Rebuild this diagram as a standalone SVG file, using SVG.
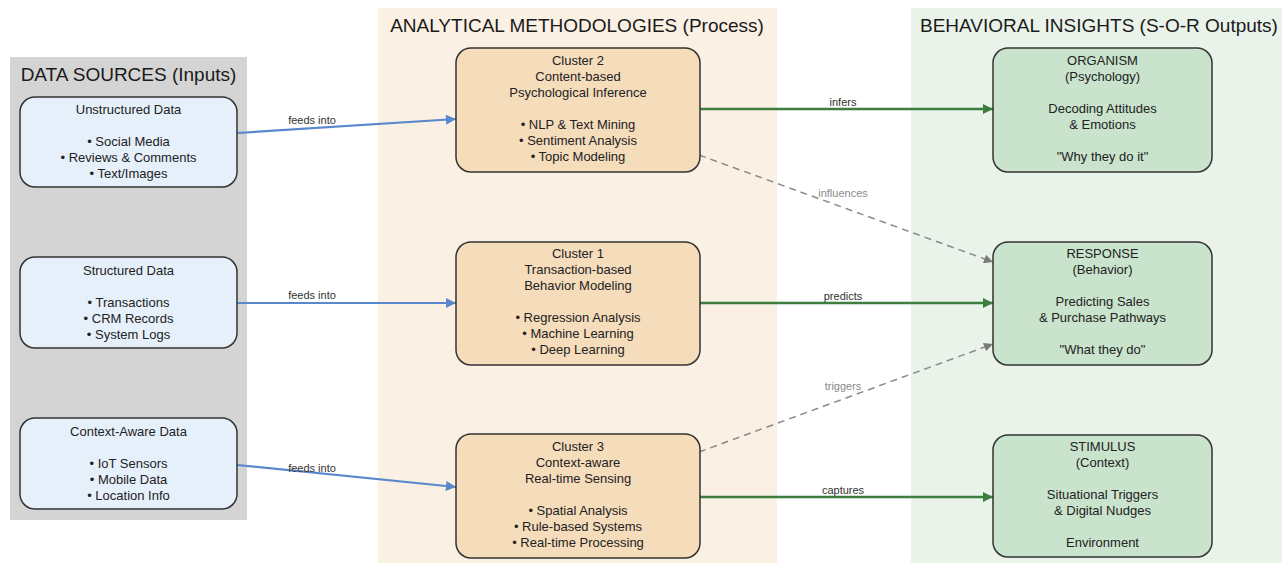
<svg xmlns="http://www.w3.org/2000/svg" width="1282" height="563" viewBox="0 0 1282 563">
<defs>
<style>
.title{font-family:"Liberation Sans",Arial,sans-serif;font-size:19px;fill:#1a1a1a}
.nt{font-family:"Liberation Sans",Arial,sans-serif;font-size:13px;fill:#222;text-anchor:middle}
.lbl{font-family:"Liberation Sans",Arial,sans-serif;font-size:11px;fill:#333;text-anchor:middle}
.glbl{font-family:"Liberation Sans",Arial,sans-serif;font-size:11px;fill:#8a8a8a;text-anchor:middle}
.src{fill:#e6f0fa;stroke:#333;stroke-width:1.5}
.mth{fill:#f5dcbb;stroke:#333;stroke-width:1.5}
.out{fill:#c9e3cc;stroke:#333;stroke-width:1.5}
.blue{stroke:#5a88cc;stroke-width:2.2;fill:none}
.green{stroke:#3d7d3d;stroke-width:2.5;fill:none}
.dash{stroke:#8a8a8a;stroke-width:1.5;fill:none;stroke-dasharray:7,5}
</style>
<marker id="ab" viewBox="0 0 10 10" refX="10" refY="5" markerWidth="14" markerHeight="10" markerUnits="userSpaceOnUse" orient="auto"><path d="M0,0 L10,5 L0,10 z" fill="#5a88cc"/></marker>
<marker id="ag" viewBox="0 0 10 10" refX="10" refY="5" markerWidth="14" markerHeight="10" markerUnits="userSpaceOnUse" orient="auto"><path d="M0,0 L10,5 L0,10 z" fill="#3d7d3d"/></marker>
<marker id="ay" viewBox="0 0 10 10" refX="10" refY="5" markerWidth="13" markerHeight="9" markerUnits="userSpaceOnUse" orient="auto"><path d="M0,0 L10,5 L0,10 z" fill="#7a7a7a"/></marker>
</defs>
<rect width="1282" height="563" fill="#ffffff"/>
<g id="panels">
<rect x="10" y="57" width="237" height="463" fill="#d4d4d4"/>
<rect x="378" y="8" width="399" height="555" fill="#faf0e4"/>
<rect x="911" y="8" width="371" height="555" fill="#eaf3ea"/>
<text class="title" x="128.5" y="81" text-anchor="middle">DATA SOURCES (Inputs)</text>
<text class="title" x="577" y="32" text-anchor="middle">ANALYTICAL METHODOLOGIES (Process)</text>
<text class="title" x="920" y="32">BEHAVIORAL INSIGHTS (S-O-R Outputs)</text>
</g>
<g id="connectors">
<line class="blue" x1="237" y1="133" x2="456" y2="119" marker-end="url(#ab)"/>
<text class="lbl" x="312" y="124">feeds into</text>
<line class="blue" x1="237" y1="303" x2="456" y2="303" marker-end="url(#ab)"/>
<text class="lbl" x="312" y="299">feeds into</text>
<line class="blue" x1="237" y1="465" x2="456" y2="487" marker-end="url(#ab)"/>
<text class="lbl" x="312" y="472">feeds into</text>
<line class="green" x1="700" y1="109" x2="993" y2="109" marker-end="url(#ag)"/>
<text class="lbl" x="843" y="106">infers</text>
<line class="green" x1="700" y1="303" x2="993" y2="303" marker-end="url(#ag)"/>
<text class="lbl" x="843" y="300">predicts</text>
<line class="green" x1="700" y1="497" x2="993" y2="497" marker-end="url(#ag)"/>
<text class="lbl" x="843" y="494">captures</text>
<line class="dash" x1="699" y1="155" x2="993" y2="262" marker-end="url(#ay)"/>
<text class="glbl" x="843" y="197">influences</text>
<line class="dash" x1="699" y1="452" x2="993" y2="344" marker-end="url(#ay)"/>
<text class="glbl" x="843" y="390">triggers</text>
</g>
<g id="unstructured">
<rect class="src" x="20" y="97" width="217" height="90" rx="15"/>
<text class="nt" x="128.5" y="114">Unstructured Data</text>
<text class="nt" x="128.5" y="146">• Social Media</text>
<text class="nt" x="128.5" y="162">• Reviews &amp; Comments</text>
<text class="nt" x="128.5" y="178">• Text/Images</text>
</g>
<g id="structured">
<rect class="src" x="20" y="257" width="217" height="91" rx="15"/>
<text class="nt" x="128.5" y="275">Structured Data</text>
<text class="nt" x="128.5" y="307">• Transactions</text>
<text class="nt" x="128.5" y="323">• CRM Records</text>
<text class="nt" x="128.5" y="339">• System Logs</text>
</g>
<g id="contextaware">
<rect class="src" x="20" y="418" width="217" height="91" rx="15"/>
<text class="nt" x="128.5" y="436">Context-Aware Data</text>
<text class="nt" x="128.5" y="468">• IoT Sensors</text>
<text class="nt" x="128.5" y="484">• Mobile Data</text>
<text class="nt" x="128.5" y="500">• Location Info</text>
</g>
<g id="cluster2">
<rect class="mth" x="456" y="48" width="244" height="124" rx="15"/>
<text class="nt" x="578" y="65">Cluster 2</text>
<text class="nt" x="578" y="81">Content-based</text>
<text class="nt" x="578" y="97">Psychological Inference</text>
<text class="nt" x="578" y="129">• NLP &amp; Text Mining</text>
<text class="nt" x="578" y="145">• Sentiment Analysis</text>
<text class="nt" x="578" y="161">• Topic Modeling</text>
</g>
<g id="cluster1">
<rect class="mth" x="456" y="242" width="244" height="123" rx="15"/>
<text class="nt" x="578" y="258">Cluster 1</text>
<text class="nt" x="578" y="274">Transaction-based</text>
<text class="nt" x="578" y="290">Behavior Modeling</text>
<text class="nt" x="578" y="322">• Regression Analysis</text>
<text class="nt" x="578" y="338">• Machine Learning</text>
<text class="nt" x="578" y="354">• Deep Learning</text>
</g>
<g id="cluster3">
<rect class="mth" x="456" y="434" width="244" height="124" rx="15"/>
<text class="nt" x="578" y="451">Cluster 3</text>
<text class="nt" x="578" y="467">Context-aware</text>
<text class="nt" x="578" y="483">Real-time Sensing</text>
<text class="nt" x="578" y="515">• Spatial Analysis</text>
<text class="nt" x="578" y="531">• Rule-based Systems</text>
<text class="nt" x="578" y="547">• Real-time Processing</text>
</g>
<g id="organism">
<rect class="out" x="993" y="48" width="219" height="124" rx="15"/>
<text class="nt" x="1102.5" y="65">ORGANISM</text>
<text class="nt" x="1102.5" y="81">(Psychology)</text>
<text class="nt" x="1102.5" y="113">Decoding Attitudes</text>
<text class="nt" x="1102.5" y="129">&amp; Emotions</text>
<text class="nt" x="1102.5" y="161">"Why they do it"</text>
</g>
<g id="response">
<rect class="out" x="993" y="242" width="219" height="123" rx="15"/>
<text class="nt" x="1102.5" y="258">RESPONSE</text>
<text class="nt" x="1102.5" y="274">(Behavior)</text>
<text class="nt" x="1102.5" y="306">Predicting Sales</text>
<text class="nt" x="1102.5" y="322">&amp; Purchase Pathways</text>
<text class="nt" x="1102.5" y="354">"What they do"</text>
</g>
<g id="stimulus">
<rect class="out" x="993" y="435" width="219" height="122" rx="15"/>
<text class="nt" x="1102.5" y="451">STIMULUS</text>
<text class="nt" x="1102.5" y="467">(Context)</text>
<text class="nt" x="1102.5" y="499">Situational Triggers</text>
<text class="nt" x="1102.5" y="515">&amp; Digital Nudges</text>
<text class="nt" x="1102.5" y="547">Environment</text>
</g>
</svg>
